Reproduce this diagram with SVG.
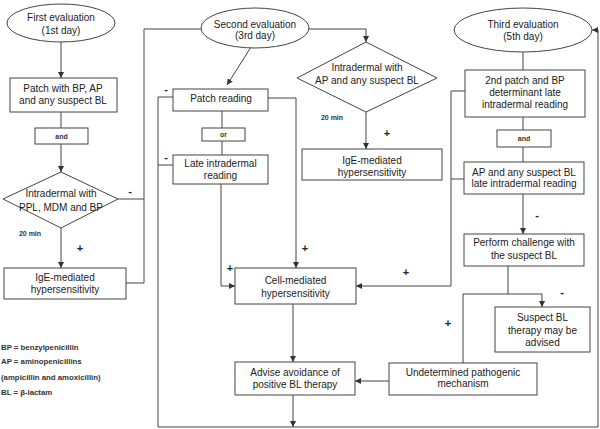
<svg xmlns="http://www.w3.org/2000/svg" width="600" height="429" viewBox="0 0 600 429">
<defs>
<marker id="ah" markerUnits="userSpaceOnUse" markerWidth="7" markerHeight="6" refX="6" refY="3" orient="auto">
<path d="M0,0 L6,3 L0,6 Z" fill="#333"/>
</marker>
<style>
.n{fill:#fff;stroke:#444;stroke-width:1}
.t{font-family:"Liberation Sans",Arial,sans-serif;font-size:10px;fill:#222;text-anchor:middle}
.s{font-family:"Liberation Sans",Arial,sans-serif;font-size:7px;font-weight:bold;fill:#333;text-anchor:middle}
.g{font-family:"Liberation Sans",Arial,sans-serif;font-size:11px;font-weight:bold;fill:#222;text-anchor:middle}
.l{font-family:"Liberation Sans",Arial,sans-serif;font-size:7.8px;font-weight:bold;fill:#333}
.c{fill:none;stroke:#444;stroke-width:1}
.a{marker-end:url(#ah)}
</style>
</defs>
<rect width="600" height="429" fill="#fff"/>
<g id="connectors">
<path class="c a" d="M61,42 V78"/>
<path class="c" d="M61,112 V128"/>
<path class="c a" d="M61,144 V172"/>
<path class="c a" d="M61,228 V268"/>
<path class="c" d="M118,199 H144"/>
<path class="c" d="M126,283 H144 V29 H201"/>
<path class="c a" d="M309,29 H366 V42"/>
<path class="c a" d="M251,47 L227,85"/>
<path class="c a" d="M366,112 V149"/>
<path class="c a" d="M268,98 H296 V268"/>
<path class="c" d="M222,111 V128"/>
<path class="c" d="M222,141 V155"/>
<path class="c a" d="M221,184 V286 H235"/>
<path class="c a" d="M173,97 H158 V427 H598 V30 H592"/>
<path class="c" d="M173,165 H158"/>
<path class="c" d="M523,52 V70"/>
<path class="c" d="M523,117 V130"/>
<path class="c" d="M523,147 V162"/>
<path class="c a" d="M465,91 H451 V286 H356"/>
<path class="c" d="M464,179 H451"/>
<path class="c a" d="M523,194 V234"/>
<path class="c" d="M508,266 V294"/>
<path class="c a" d="M463,294 H542 V307"/>
<path class="c" d="M463,294 V363"/>
<path class="c a" d="M389,381 H355"/>
<path class="c a" d="M293,304 V362"/>
<path class="c a" d="M293,395 V427"/>
<text class="g" x="130" y="195">-</text>
<text class="g" x="80" y="252">+</text>
<text class="s" x="30" y="236">20 min</text>
<text class="g" x="166" y="93">-</text>
<text class="g" x="166" y="161">-</text>
<text class="s" x="332" y="120">20 min</text>
<text class="g" x="387" y="137">+</text>
<text class="g" x="305" y="252">+</text>
<text class="g" x="230" y="272">+</text>
<text class="g" x="406" y="276">+</text>
<text class="g" x="537" y="219">-</text>
<text class="g" x="562" y="296">-</text>
<text class="g" x="448" y="327">+</text>
</g>
<g id="e1"><ellipse class="n" cx="61" cy="23" rx="54" ry="19"/><text class="t" x="61" y="21">First evaluation</text><text class="t" x="61" y="34">(1st day)</text></g>
<g id="b1"><rect class="n" x="10" y="78" width="107" height="34"/><text class="t" x="63" y="91.5">Patch with BP, AP</text><text class="t" x="63" y="103.5">and any suspect BL</text></g>
<g id="and1"><rect class="n" x="35" y="128" width="53" height="16"/><text class="s" x="61.5" y="138.5">and</text></g>
<g id="d1"><polygon class="n" points="61,172 118,199 61,228 3,199"/><text class="t" x="61" y="196.5">Intradermal with</text><text class="t" x="61" y="210.5">PPL, MDM and BP</text></g>
<g id="ige1"><rect class="n" x="4" y="268" width="122" height="31"/><text class="t" x="65" y="280.5">IgE-mediated</text><text class="t" x="65" y="292.5">hypersensitivity</text></g>
<g id="e2"><ellipse class="n" cx="255" cy="28" rx="54" ry="20"/><text class="t" x="255" y="27.5">Second evaluation</text><text class="t" x="255" y="38.5">(3rd day)</text></g>
<g id="patch"><rect class="n" x="173" y="89" width="95" height="22"/><text class="t" x="221" y="101.5">Patch reading</text></g>
<g id="or"><rect class="n" x="202" y="128" width="43" height="13"/><text class="s" x="223.5" y="137">or</text></g>
<g id="late"><rect class="n" x="173" y="155" width="95" height="29"/><text class="t" x="220.5" y="166.5">Late intradermal</text><text class="t" x="220.5" y="178.5">reading</text></g>
<g id="d2"><polygon class="n" points="366,42 437,78 366,112 297,78"/><text class="t" x="367" y="70.5">Intradermal with</text><text class="t" x="367" y="83.5">AP and any suspect BL</text></g>
<g id="ige2"><rect class="n" x="302" y="149" width="140" height="31"/><text class="t" x="372" y="163.5">IgE-mediated</text><text class="t" x="372" y="175.5">hypersensitivity</text></g>
<g id="e3"><ellipse class="n" cx="523" cy="30" rx="69" ry="22"/><text class="t" x="523" y="27.5">Third evaluation</text><text class="t" x="523" y="39.5">(5th day)</text></g>
<g id="b3"><rect class="n" x="465" y="70" width="120" height="47"/><text class="t" x="525" y="84">2nd patch and BP</text><text class="t" x="525" y="96">determinant late</text><text class="t" x="525" y="107.5">intradermal reading</text></g>
<g id="and3"><rect class="n" x="497" y="130" width="54" height="17"/><text class="s" x="524" y="141">and</text></g>
<g id="apbl"><rect class="n" x="464" y="162" width="120" height="32"/><text class="t" x="524" y="175.5">AP and any suspect BL</text><text class="t" x="524" y="186.5">late intradermal reading</text></g>
<g id="perform"><rect class="n" x="464" y="234" width="120" height="32"/><text class="t" x="524" y="245.5">Perform challenge with</text><text class="t" x="524" y="258.5">the suspect BL</text></g>
<g id="cell"><rect class="n" x="235" y="268" width="121" height="36"/><text class="t" x="295.5" y="283.5">Cell-mediated</text><text class="t" x="295.5" y="296.5">hypersensitivity</text></g>
<g id="advise"><rect class="n" x="235" y="362" width="120" height="33"/><text class="t" x="295" y="375.5">Advise avoidance of</text><text class="t" x="295" y="387.5">positive BL therapy</text></g>
<g id="suspect"><rect class="n" x="495" y="307" width="95" height="45"/><text class="t" x="542.5" y="320.5">Suspect BL</text><text class="t" x="542.5" y="333.5">therapy may be</text><text class="t" x="542.5" y="345.5">advised</text></g>
<g id="undet"><rect class="n" x="389" y="363" width="148" height="32"/><text class="t" x="463" y="375.5">Undetermined pathogenic</text><text class="t" x="463" y="386.5">mechanism</text></g>
<g id="legend">
<text class="l" x="1" y="350">BP = benzylpenicillin</text>
<text class="l" x="1" y="364">AP = aminopenicillins</text>
<text class="l" x="1" y="380">(ampicillin and amoxicillin)</text>
<text class="l" x="1" y="395">BL = β-lactam</text>
</g>
</svg>
